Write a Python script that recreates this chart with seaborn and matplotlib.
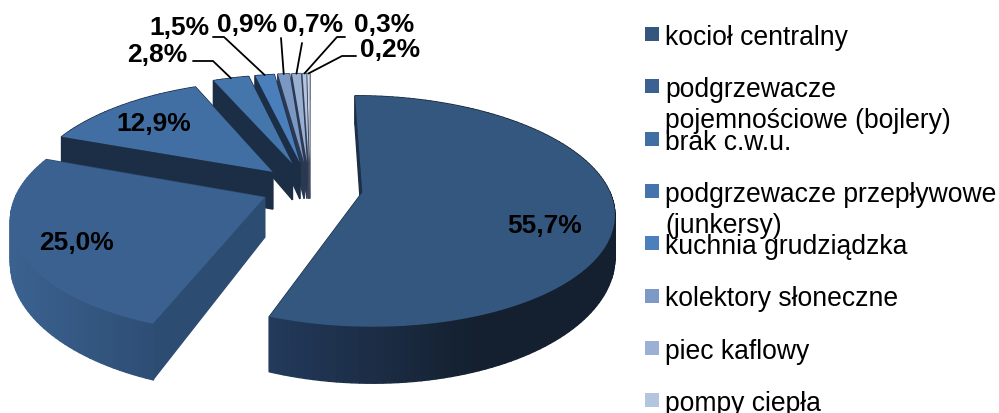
# ==========================================================
# 3D exploded pie - sources of hot water (c.w.u.)
# ==========================================================

import numpy as np
import matplotlib
matplotlib.use("Agg")
import matplotlib.pyplot as plt
from matplotlib.patches import Rectangle
from matplotlib.transforms import Transform
import seaborn as sns

# ==========================================================
# DATA
# ==========================================================

values = [55.7, 25.0, 12.9, 2.8, 1.5, 0.9, 0.7, 0.3, 0.2]

legend_labels = [
    "kocioł centralny",
    "podgrzewacze\npojemnościowe (bojlery)",
    "brak c.w.u.",
    "podgrzewacze przepływowe\n(junkersy)",
    "kuchnia grudziądzka",
    "kolektory słoneczne",
    "piec kaflowy",
    "pompy ciepła",
]

top_colors = ["#34577f", "#3a6190", "#416fa3", "#4475ab", "#4a7fbc",
              "#7b98c5", "#9ab0d3", "#b3c4df", "#ccd6e8"]
legend_colors = ["#34567f", "#3a6191", "#416ea3", "#4574ad", "#4b80bd",
                 "#7d99c6", "#9bb0d4", "#b4c5e0"]
wall_left = ["#233a5b", "#3b6290", "#1b2e46", "#1b2e46", "#1b2e46",
             "#2a3850", "#2a3850", "#3c465c", "#5c6578"]
wall_right = ["#14202f", "#2d4d73", "#1b2e46", "#1b2e46", "#1b2e46",
              "#2a3850", "#2a3850", "#3c465c", "#5c6578"]
radial_colors = ["#1b2f47", "#2d4c72", "#1b2e46", "#1b2e46", "#1b2e46",
                 "#2a3850", "#2a3850", "#3c465c", "#5c6578"]

# ==========================================================
# PROJECTION (flat pie -> tilted view, in pixels)
# ==========================================================

CX, CY = 310, 189
RX, RY = 246, 111
PERSP = 0.163
DEPTH = 39
EXPLODE = [0.215, 0.2, 0.215, 0.24, 0.24, 0.24, 0.24, 0.24, 0.24]


def project(u, v):
    w = 1 + PERSP * v
    return CX + RX * u / w, CY - RY * v / w


def drop(v):
    return DEPTH / (1 + PERSP * v) ** 2


class Tilt(Transform):
    input_dims = 2
    output_dims = 2

    def transform_non_affine(self, values):
        values = np.asarray(values)
        x, y = project(values[:, 0], values[:, 1])
        return np.column_stack([x, y])


sns.set_theme(style="white")
plt.rcParams["font.family"] = ["Liberation Sans", "DejaVu Sans"]

fig, ax = plt.subplots(figsize=(9.99, 4.14), dpi=100)
ax.set_position([0, 0, 1, 1])

wedges, _ = ax.pie(
    values,
    explode=EXPLODE,
    colors=top_colors,
    startangle=90,
    counterclock=False,
)

ax.set_aspect("auto")
ax.set_xlim(0, 999)
ax.set_ylim(414, 0)
ax.axis("off")

tilt = Tilt()

# ==========================================================
# WALLS + TOP FACES (far slices first)
# ==========================================================

for i, wedge in enumerate(wedges):
    z = 10 * (len(wedges) - i)
    cu, cv = wedge.center
    t = np.radians(np.arange(wedge.theta1, wedge.theta2 + 1.5, 1.5))
    t[-1] = min(t[-1], np.radians(wedge.theta2))
    us = cu + np.cos(t)
    vs = cv + np.sin(t)

    # radial walls
    faces = []
    for end in (0, -1):
        pts_u = np.array([cu, us[end]])
        pts_v = np.array([cv, vs[end]])
        faces.append((pts_v.mean(), pts_u, pts_v, radial_colors[i]))

    # outer wall, shaded from left to right
    left = np.array(matplotlib.colors.to_rgb(wall_left[i]))
    right = np.array(matplotlib.colors.to_rgb(wall_right[i]))
    for k in range(len(t) - 1):
        pts_u = us[k:k + 2]
        pts_v = vs[k:k + 2]
        x_mid = project(pts_u.mean(), pts_v.mean())[0]
        mix = np.clip((x_mid - 10) / (610 - 10), 0, 1)
        if i == 1:
            mix = np.clip((x_mid - 10) / 150, 0, 1)
        if i == 0:
            mix = np.clip((x_mid - 273) / 200, 0, 1)
        faces.append((pts_v.mean(), pts_u, pts_v,
                      tuple(left + (right - left) * mix)))

    for _, pts_u, pts_v, col in sorted(faces, key=lambda f: -f[0]):
        x, y = project(pts_u, pts_v)
        d = drop(pts_v)
        ax.fill(
            np.r_[x, x[::-1]],
            np.r_[y, (y + d)[::-1]],
            color=col,
            lw=1.0,
            zorder=z,
        )

    wedge.set_transform(tilt + ax.transData)
    wedge.set_zorder(z + 5)
    wedge.set_linewidth(0)

# ==========================================================
# VALUE LABELS
# ==========================================================

label_text = [f"{v:.1f}%".replace(".", ",") for v in values]
label_xy = [(545, 226), (77, 243), (154, 124), (157, 55), (179, 28),
            (247, 25), (313, 25), (384, 25), (390, 50)]

for txt, (x, y) in zip(label_text, label_xy):
    ax.text(x, y, txt, fontsize=19, fontweight="bold", color="black",
            ha="center", va="center", zorder=200)

# leader lines run from the label to the rim of the small slices
elbows = {
    3: [(193, 62), (213, 62)],
    4: [(213, 38), (224, 38)],
    5: [(281, 39)],
    6: [(302, 44)],
    7: [(345, 38), (337, 38)],
    8: [(356, 57), (342, 57)],
}

for i, pts in elbows.items():
    wedge = wedges[i]
    mid = np.radians((wedge.theta1 + wedge.theta2) / 2)
    end = project(wedge.center[0] + np.cos(mid), wedge.center[1] + np.sin(mid))
    xs, ys = zip(*(pts + [end]))
    ax.plot(xs, ys, color="black", lw=1.3, zorder=190)

# ==========================================================
# LEGEND (rows overlap like the original)
# ==========================================================

for k, (lab, col) in enumerate(zip(legend_labels, legend_colors)):
    y = 35 + 52.3 * k
    ax.add_patch(Rectangle((645, y - 7), 14, 14, color=col, lw=0, zorder=200))
    lines = lab.split("\n")
    for n, line in enumerate(lines):
        ax.text(665, y + 31 * n, line, fontsize=19.1, color="black",
                va="center_baseline", ha="left", zorder=201)

fig.savefig("out.png", dpi=100)
